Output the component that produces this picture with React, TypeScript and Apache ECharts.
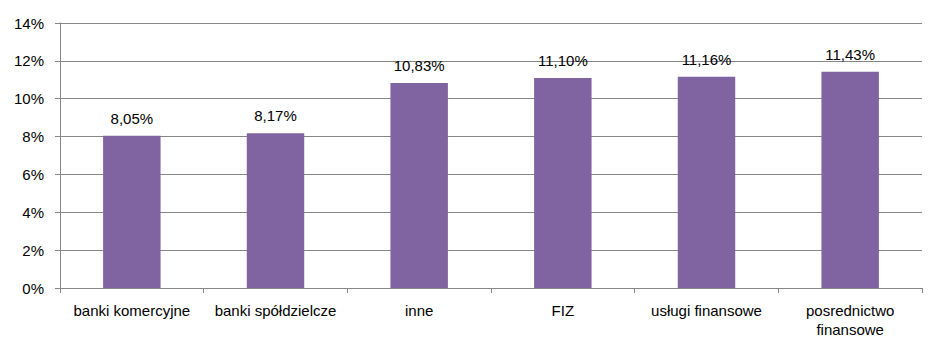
import React, { useEffect, useRef } from "react";
import * as echarts from "echarts";

const categories = [
  "banki komercyjne",
  "banki spółdzielcze",
  "inne",
  "FIZ",
  "usługi finansowe",
  "posrednictwo\nfinansowe",
];
const values = [8.05, 8.17, 10.83, 11.1, 11.16, 11.43];
const yTicks = { min: 0, max: 14, interval: 2 };

const FONT = "'Liberation Sans Narrow', 'Arial Narrow', 'Liberation Sans', sans-serif";

export default function App() {
  const ref = useRef<HTMLDivElement>(null);
  useEffect(() => {
    if (!ref.current) return;
    const chart = echarts.init(ref.current, undefined, { renderer: "svg" });
    chart.setOption({
      animation: false,
      backgroundColor: "#ffffff",
      grid: { left: 60, right: 23, top: 23, bottom: 68, containLabel: false },
      xAxis: {
        type: "category",
        data: categories,
        axisLine: { show: true, lineStyle: { color: "#868686", width: 1 } },
        axisTick: { show: true, alignWithLabel: false, length: 5, lineStyle: { color: "#868686" } },
        axisLabel: {
          color: "#000000",
          fontFamily: FONT,
          fontSize: 15,
          margin: 13,
          lineHeight: 19,
          interval: 0,
        },
      },
      yAxis: {
        type: "value",
        min: yTicks.min,
        max: yTicks.max,
        interval: yTicks.interval,
        axisLine: { show: true, lineStyle: { color: "#868686", width: 1 } },
        axisTick: { show: true, length: 5, lineStyle: { color: "#868686" } },
        splitLine: { show: true, lineStyle: { color: "#868686", width: 1 } },
        axisLabel: {
          color: "#000000",
          fontFamily: FONT,
          fontSize: 15,
          margin: 16,
          formatter: (v: number) => `${v}%`,
        },
      },
      series: [
        {
          type: "bar",
          data: values,
          barWidth: "40%",
          itemStyle: { color: "#8064A2" },
          label: {
            show: true,
            position: "top",
            distance: 10,
            color: "#000000",
            fontFamily: FONT,
            fontSize: 15,
            formatter: (p: any) => `${p.value.toFixed(2).replace(".", ",")}%`,
          },
        },
      ],
    });
    return () => chart.dispose();
  }, []);
  return (
    <div
      ref={ref}
      style={{ position: "fixed", left: 0, top: 0, width: 945, height: 356, background: "#fff" }}
    />
  );
}
